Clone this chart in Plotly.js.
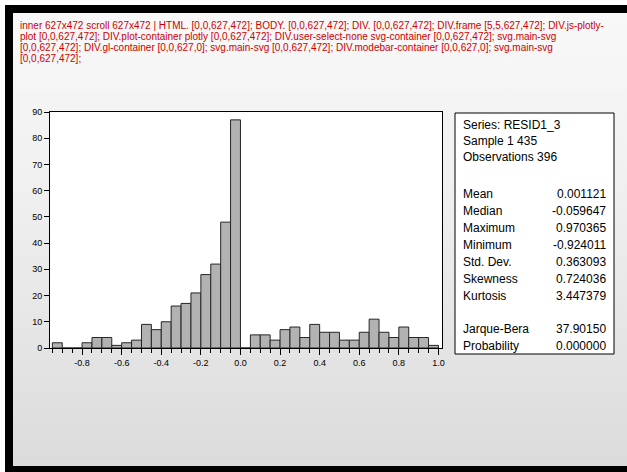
<!DOCTYPE html>
<html>
<head>
<meta charset="utf-8">
<script src="https://cdn.plot.ly/plotly-3.0.1.min.js"></script>
<style>
  html, body { margin: 0; padding: 0; background: #ffffff; overflow: hidden; width: 627px; height: 472px; }
  #root { position: relative; left: 0; top: 0; width: 627px; height: 472px; overflow: hidden; }
  .frame {
    position: absolute; left: 5px; top: 5px; width: 622px; height: 467px;
    box-sizing: border-box;
    border-top: 8px solid #000; border-left: 8px solid #000; border-bottom: 6px solid #000;
    background: linear-gradient(to bottom, #f8f8f8 0%, #f1f1f1 35%, #e4e4e4 75%, #dbdbdb 100%);
  }
  #chart { position: absolute; left: 0; top: 0; width: 627px; height: 472px; overflow: hidden; }
  #info { position: absolute; left: 20px; top: 20px; width: 590px; font: 10px sans-serif; color: #c00; z-index: 10; }
</style>
</head>
<body>
<div id="root">
  <div class="frame"></div>
  <div id="chart"></div>
  <div id="info"></div>
</div>
<script>
const binCenters = [-0.925, -0.875, -0.825, -0.775, -0.725, -0.675, -0.625, -0.575, -0.525, -0.475,
                    -0.425, -0.375, -0.325, -0.275, -0.225, -0.175, -0.125, -0.075, -0.025, 0.025,
                    0.075, 0.125, 0.175, 0.225, 0.275, 0.325, 0.375, 0.425, 0.475, 0.525,
                    0.575, 0.625, 0.675, 0.725, 0.775, 0.825, 0.875, 0.925, 0.975];
const counts = [2, 0, 0, 2, 4, 4, 1, 2, 3, 9,
                7, 10, 16, 17, 21, 28, 32, 48, 87, 0,
                5, 5, 3, 7, 8, 4, 9, 6, 6, 3,
                3, 6, 11, 6, 4, 8, 4, 4, 1];
const binWidth = 0.05;

const xTickVals = [-0.8, -0.6, -0.4, -0.2, 0.0, 0.2, 0.4, 0.6, 0.8, 1.0];
const xTickText = ["-0.8", "-0.6", "-0.4", "-0.2", "0.0", "0.2", "0.4", "0.6", "0.8", "1.0"];
const yTickVals = [0, 10, 20, 30, 40, 50, 60, 70, 80, 90];
const yTickText = ["0", "10", "20", "30", "40", "50", "60", "70", "80", "90"];

const headerLines = ["Series: RESID1_3", "Sample 1 435", "Observations 396"];
const statLabels = ["Mean", "Median", "Maximum", "Minimum", "Std. Dev.", "Skewness", "Kurtosis"];
const statValues = ["0.001121", "-0.059647", "0.970365", "-0.924011", "0.363093", "0.724036", "3.447379"];
const testLabels = ["Jarque-Bera", "Probability"];
const testValues = ["37.90150", "0.000000"];

const L = 50, R = 442, T = 112, B = 348, W = 627, H = 472;
const px = x => (x - L) / (R - L);
const py = y => (B - y) / (B - T);

const font = "Liberation Sans, Arial, sans-serif";
const annotations = [];
function addText(text, xPix, yPix, anchor) {
  annotations.push({
    text: text, xref: "paper", yref: "paper", x: px(xPix), y: py(yPix),
    xanchor: anchor, yanchor: "middle", showarrow: false,
    font: { family: font, size: 12, color: "#000" }
  });
}
headerLines.forEach((t, i) => addText(t, 461, 125 + 16 * i, "left"));
statLabels.forEach((t, i) => addText(t, 461, 194 + 17 * i, "left"));
statValues.forEach((t, i) => addText(t, 608, 194 + 17 * i, "right"));
testLabels.forEach((t, i) => addText(t, 461, 329 + 17 * i, "left"));
testValues.forEach((t, i) => addText(t, 608, 329 + 17 * i, "right"));

const trace = {
  type: "bar", x: binCenters, y: counts, width: binWidth,
  marker: { color: "#b2b2b2", line: { color: "#262626", width: 1 } },
  hoverinfo: "skip"
};

const layout = {
  width: W, height: H,
  margin: { l: L, r: W - R, t: T, b: H - B, pad: 0 },
  paper_bgcolor: "rgba(0,0,0,0)",
  plot_bgcolor: "#ffffff",
  showlegend: false,
  bargap: 0,
  xaxis: {
    range: [-0.962, 1.018], showgrid: false, zeroline: false,
    showline: true, linecolor: "#000", linewidth: 1, mirror: true,
    tickmode: "array", tickvals: xTickVals, ticktext: xTickText,
    ticks: "outside", ticklen: 6, tickcolor: "#000", tickwidth: 1,
    minor: { tickmode: "linear", tick0: 0, dtick: 0.05, ticks: "outside", ticklen: 4, tickcolor: "#000", showgrid: false },
    tickfont: { family: font, size: 9, color: "#000" }
  },
  yaxis: {
    range: [0, 90], showgrid: false, zeroline: false,
    showline: true, linecolor: "#000", linewidth: 1, mirror: true,
    tickmode: "array", tickvals: yTickVals, ticktext: yTickText,
    ticks: "outside", ticklen: 5, tickcolor: "#000", tickwidth: 1,
    tickfont: { family: font, size: 9, color: "#000" }
  },
  shapes: [{
    type: "rect", xref: "paper", yref: "paper",
    x0: px(455), x1: px(614), y0: py(354), y1: py(113),
    fillcolor: "#ffffff", line: { color: "#000", width: 1 }, layer: "below"
  }],
  annotations: annotations
};

Plotly.newPlot("chart", [trace], layout, { staticPlot: true, displayModeBar: false }).then(() => {
  const d = document.documentElement;
  let msg = "inner " + innerWidth + "x" + innerHeight + " scroll " + d.scrollWidth + "x" + d.scrollHeight + " | ";
  document.querySelectorAll("*").forEach(el => {
    const r = el.getBoundingClientRect();
    if (r.right > 615 || r.bottom > 470) {
      msg += (el.tagName + "." + (el.getAttribute("class") || "") + " [" + Math.round(r.left) + "," + Math.round(r.top) + "," + Math.round(r.right) + "," + Math.round(r.bottom) + "]; ");
    }
  });
  document.getElementById("info").textContent = msg;
});
</script>
</body>
</html>
